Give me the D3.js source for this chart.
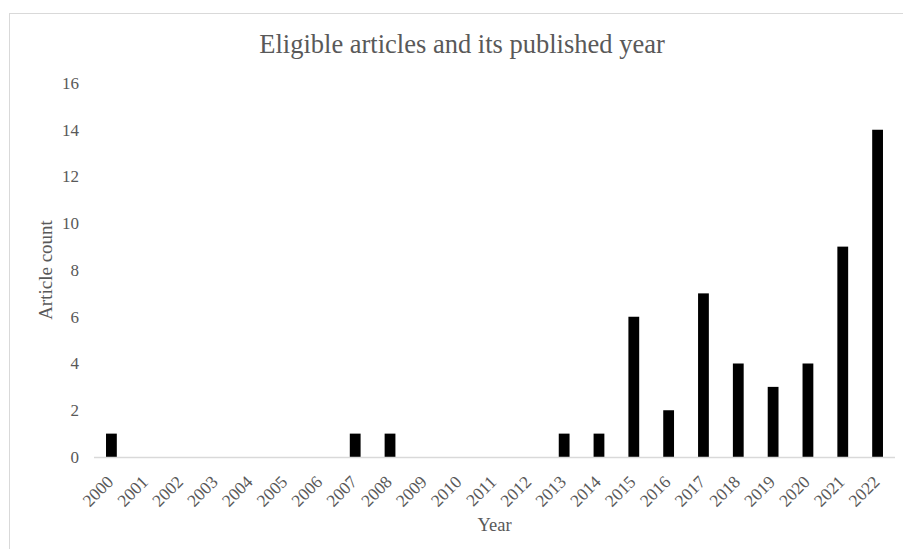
<!DOCTYPE html>
<html>
<head>
<meta charset="utf-8">
<script src="https://cdn.jsdelivr.net/npm/d3@7"></script>
<style>
  html, body { margin: 0; padding: 0; background: #fff; }
  svg { display: block; }
  text { font-family: "Liberation Serif", "Times New Roman", serif; fill: #595959; }
</style>
</head>
<body>
<svg id="chart" width="903" height="549"></svg>
<script>
// Eligible articles per publication year
const years = ["2000","2001","2002","2003","2004","2005","2006","2007","2008","2009","2010",
               "2011","2012","2013","2014","2015","2016","2017","2018","2019","2020","2021","2022"];
const counts = [1,0,0,0,0,0,0,1,1,0,0,0,0,1,1,6,2,7,4,3,4,9,14];
const yTicks = [0,2,4,6,8,10,12,14,16];

const svg = d3.select("#chart");
const plot = { left: 94, right: 895, top: 83, bottom: 457 };

// outer chart frame
svg.append("rect")
  .attr("x", 9.5).attr("y", 13.5)
  .attr("width", 920).attr("height", 560)
  .attr("fill", "#fff").attr("stroke", "#d9d9d9").attr("stroke-width", 1);

const x = d3.scaleBand().domain(years).range([plot.left, plot.right]).paddingInner(0.69).paddingOuter(0.345);
const y = d3.scaleLinear().domain([0, 16]).range([plot.bottom, plot.top]);

// title
svg.append("text")
  .attr("x", 462).attr("y", 53)
  .attr("text-anchor", "middle")
  .attr("font-size", 26.5)
  .text("Eligible articles and its published year");

// y axis tick labels
const yAxis = d3.axisLeft(y).tickValues(yTicks).tickSize(0).tickPadding(0);
const gy = svg.append("g").attr("transform", `translate(${79},0)`).call(yAxis);
gy.select(".domain").remove();
gy.selectAll("text").attr("font-size", 17).attr("font-family", null).attr("fill", "#595959");

// bars
svg.append("g").selectAll("rect")
  .data(years.map((yr, i) => ({ yr, v: counts[i] })))
  .join("rect")
  .attr("x", d => x(d.yr))
  .attr("width", x.bandwidth())
  .attr("y", d => y(d.v))
  .attr("height", d => y(0) - y(d.v))
  .attr("fill", "#000");

// x axis
const xAxis = d3.axisBottom(x).tickSize(0).tickPadding(0);
const gx = svg.append("g").attr("transform", `translate(0,${plot.bottom})`).call(xAxis);
gx.select(".domain").attr("stroke", "#d9d9d9").attr("stroke-width", 1.5)
  .attr("d", `M${plot.left},0.5H${plot.right}`);
gx.selectAll(".tick text")
  .attr("font-size", 17.5).attr("font-family", null).attr("fill", "#595959")
  .attr("text-anchor", "end")
  .attr("dy", null).attr("y", 0)
  .attr("transform", "translate(3,26) rotate(-45)");

// axis titles
svg.append("text")
  .attr("x", (plot.left + plot.right) / 2).attr("y", 531)
  .attr("text-anchor", "middle").attr("font-size", 18.5)
  .text("Year");

svg.append("text")
  .attr("transform", `translate(52,${(plot.top + plot.bottom) / 2}) rotate(-90)`)
  .attr("text-anchor", "middle").attr("font-size", 19)
  .text("Article count");
</script>
</body>
</html>
